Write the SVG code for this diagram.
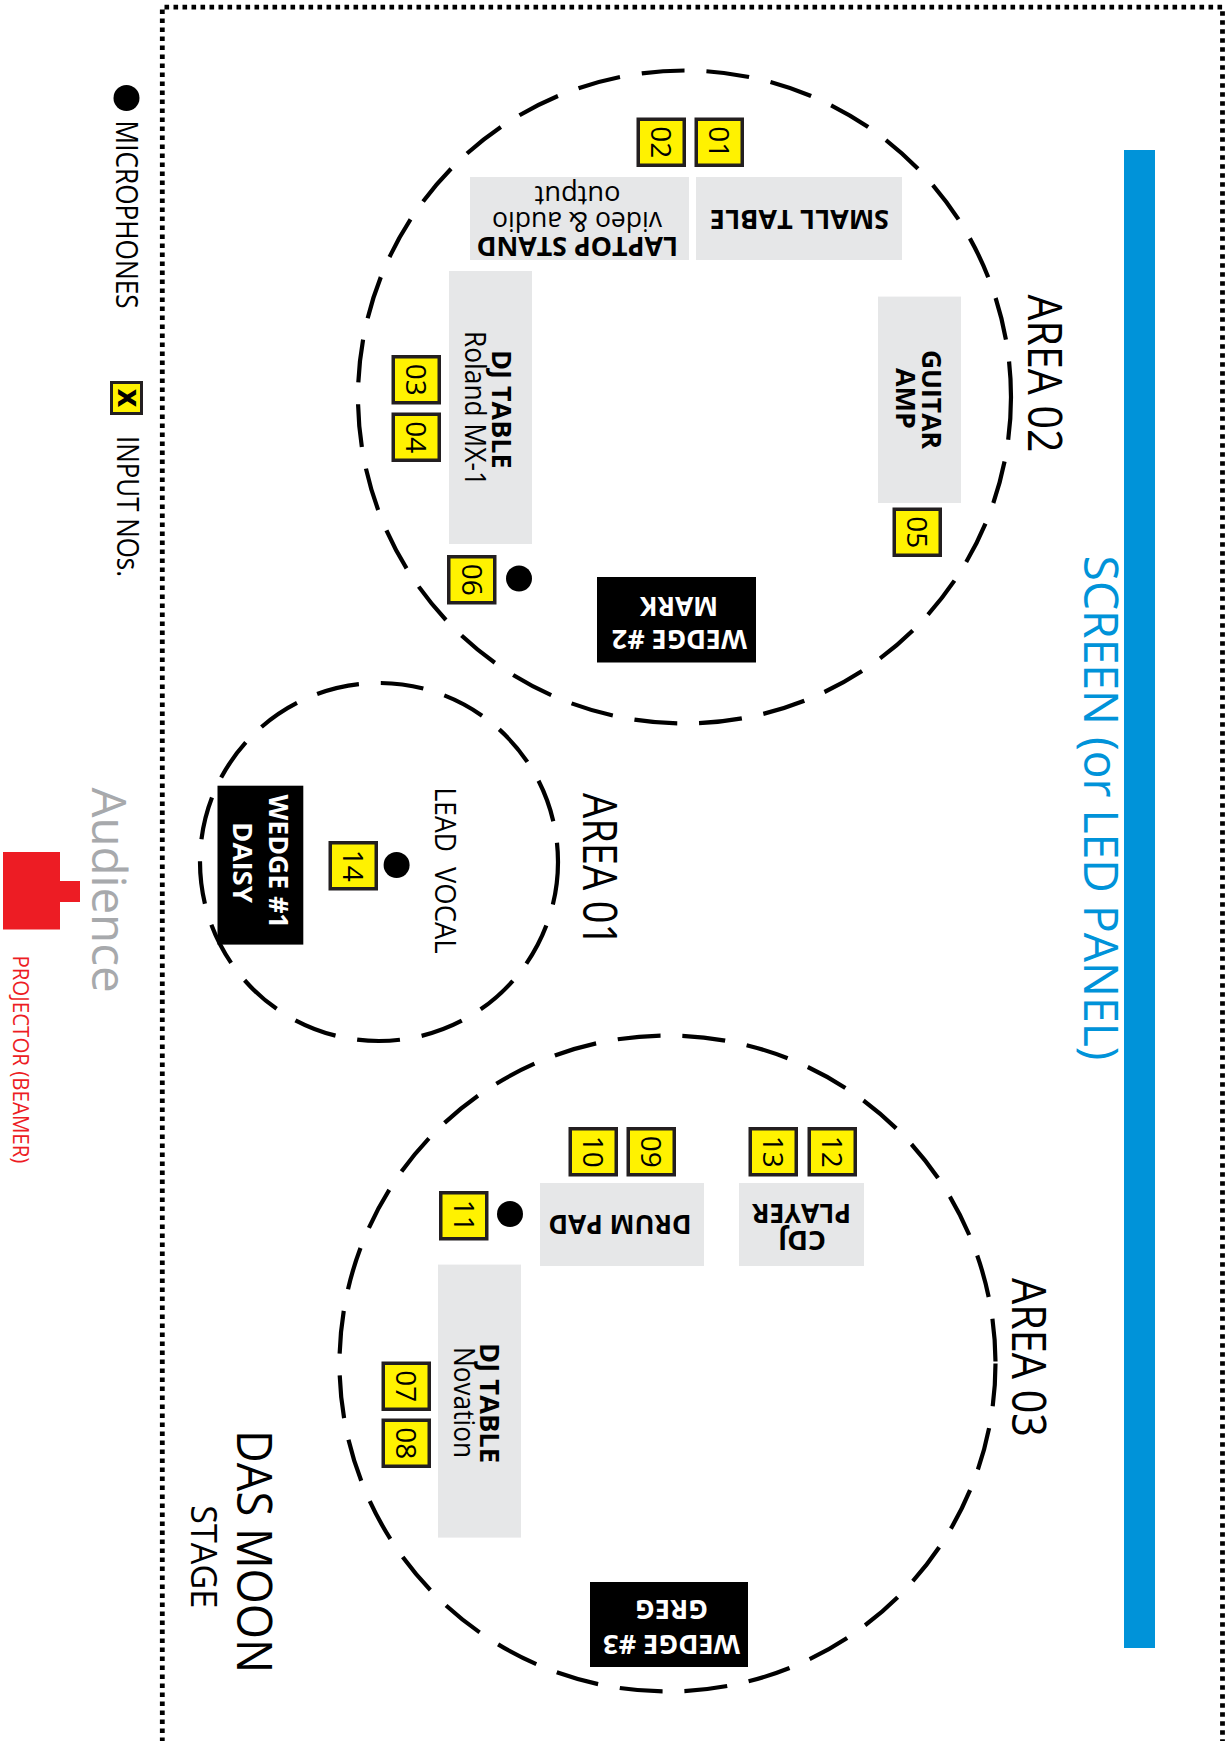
<svg xmlns="http://www.w3.org/2000/svg" width="1227" height="1741" viewBox="0 0 1227 1741">
<style>
text{font-family:"Open Sans","Noto Sans","Liberation Sans",sans-serif;fill:#000}
.b{font-weight:700}
.m{text-anchor:middle}
.g{fill:#e6e7e8}
.k{fill:#000}
.w{fill:#fff}
.area{fill:none;stroke:#000;stroke-width:4.2;stroke-dasharray:43 22}
.nb rect{fill:#fff200;stroke:#231f20;stroke-width:3.5}
.nb text{font-size:28px;text-anchor:middle}
.lbl{font-size:27px}
.big{font-size:47px}
</style>
<rect width="1227" height="1741" fill="#fff"/>
<g id="border">
<path d="M162.3,1760 V7.2 H1222.5 V1760" fill="none" stroke="#000" stroke-width="4.8" stroke-dasharray="4.6 4.4"/>
</g>
<g id="screen">
<rect x="1124" y="150" width="31" height="1498" fill="#0093d9"/>
<text transform="translate(1084,555.5) rotate(90)" font-size="48" textLength="505" lengthAdjust="spacingAndGlyphs" style="fill:#0093d9">SCREEN (or LED PANEL)</text>
</g>
<g id="areas">
<circle id="area02-circle" class="area" cx="684.5" cy="397" r="326.5"/>
<circle id="area01-circle" class="area" cx="379" cy="862" r="179"/>
<circle id="area03-circle" class="area" cx="667.5" cy="1363.5" r="328"/>
<text transform="translate(1028,294.6) rotate(90)" class="big" textLength="158" lengthAdjust="spacingAndGlyphs">AREA 02</text>
<text transform="translate(583,792.9) rotate(90)" class="big" textLength="153.5" lengthAdjust="spacingAndGlyphs">AREA 01</text>
<text transform="translate(1012,1278) rotate(90)" class="big" textLength="159" lengthAdjust="spacingAndGlyphs">AREA 03</text>
</g>
<g id="legend">
<circle cx="126.5" cy="98" r="13" fill="#000"/>
<text transform="translate(115.5,120.6) rotate(90)" font-size="31" textLength="188" lengthAdjust="spacingAndGlyphs">MICROPHONES</text>
<rect x="111.5" y="382.5" width="30" height="31" fill="#fff200" stroke="#231f20" stroke-width="3"/>
<text transform="translate(117.5,398) rotate(90)" class="b m" font-size="32">x</text>
<text transform="translate(116.6,436) rotate(90)" font-size="31" textLength="141" lengthAdjust="spacingAndGlyphs">INPUT NOs.</text>
</g>
<g id="audience">
<text transform="translate(92,787.5) rotate(90)" font-size="48" textLength="205" lengthAdjust="spacingAndGlyphs" style="fill:#a7a9ac">Audience</text>
</g>
<g id="projector">
<rect x="3" y="852" width="57" height="77.5" fill="#ed1c24"/>
<rect x="59" y="881" width="21" height="21" fill="#ed1c24"/>
<text transform="translate(12.5,955.4) rotate(90)" font-size="22" textLength="208" lengthAdjust="spacingAndGlyphs" style="fill:#ed1c24">PROJECTOR (BEAMER)</text>
</g>
<g id="stage-title">
<text transform="translate(237.2,1430) rotate(90)" font-size="49" textLength="243" lengthAdjust="spacingAndGlyphs">DAS MOON</text>
<text transform="translate(191,1505.3) rotate(90)" font-size="37" textLength="103" lengthAdjust="spacingAndGlyphs">STAGE</text>
</g>
<g id="laptop-stand">
<rect class="g" x="470" y="177" width="219" height="83"/>
<text transform="translate(577.3,237) rotate(180)" class="b m lbl" textLength="201.5" lengthAdjust="spacingAndGlyphs">LAPTOP STAND</text>
<text transform="translate(577,211.5) rotate(180)" class="m lbl" textLength="170" lengthAdjust="spacingAndGlyphs">video &amp; audio</text>
<text transform="translate(577.5,186) rotate(180)" class="m lbl" textLength="86" lengthAdjust="spacingAndGlyphs">output</text>
</g>
<g id="small-table">
<rect class="g" x="696" y="177" width="206" height="83"/>
<text transform="translate(799.5,209.6) rotate(180)" class="b m lbl" textLength="179" lengthAdjust="spacingAndGlyphs">SMALL TABLE</text>
</g>
<g id="guitar-amp">
<rect class="g" x="878" y="296.6" width="83" height="206.4"/>
<text transform="translate(922,399.4) rotate(90)" class="b m lbl" textLength="99" lengthAdjust="spacingAndGlyphs">GUITAR</text>
<text transform="translate(896,398.4) rotate(90)" class="b m lbl" textLength="61" lengthAdjust="spacingAndGlyphs">AMP</text>
</g>
<g id="dj-table-roland">
<rect class="g" x="449" y="271" width="83" height="273"/>
<text transform="translate(492,409.3) rotate(90)" class="b m lbl" textLength="118.6" lengthAdjust="spacingAndGlyphs">DJ TABLE</text>
<text transform="translate(465,408.5) rotate(90)" class="m" font-size="29" textLength="155" lengthAdjust="spacingAndGlyphs">Roland MX-1</text>
</g>
<g id="wedge2">
<rect class="k" x="597" y="577" width="159" height="85.5"/>
<text transform="translate(679.5,630) rotate(180)" class="b m lbl w" textLength="135" lengthAdjust="spacingAndGlyphs">WEDGE #2</text>
<text transform="translate(679,597) rotate(180)" class="b m lbl w" textLength="78" lengthAdjust="spacingAndGlyphs">MARK</text>
</g>
<g id="mic-06"><circle cx="519" cy="578.5" r="13" fill="#000"/></g>
<g id="lead-vocal">
<text transform="translate(435,787.5) rotate(90)" font-size="30"><tspan x="0" textLength="64.3" lengthAdjust="spacingAndGlyphs">LEAD</tspan><tspan x="79.5" textLength="86.6" lengthAdjust="spacingAndGlyphs">VOCAL</tspan></text>
<circle cx="396.6" cy="865" r="13" fill="#000"/>
</g>
<g id="wedge1">
<rect class="k" x="217.5" y="785.7" width="85.8" height="158.9"/>
<text transform="translate(269,861.6) rotate(90)" class="b m lbl w" textLength="134" lengthAdjust="spacingAndGlyphs">WEDGE #1</text>
<text transform="translate(233.3,862.5) rotate(90)" class="b m lbl w" textLength="81" lengthAdjust="spacingAndGlyphs">DAISY</text>
</g>
<g id="drum-pad">
<rect class="g" x="540" y="1183" width="164" height="83"/>
<text transform="translate(620,1214.7) rotate(180)" class="b m lbl" textLength="143" lengthAdjust="spacingAndGlyphs">DRUM PAD</text>
</g>
<g id="cdj-player">
<rect class="g" x="739" y="1183" width="125" height="83"/>
<text transform="translate(802,1231) rotate(180)" class="b m lbl" textLength="48" lengthAdjust="spacingAndGlyphs">CDJ</text>
<text transform="translate(801.5,1204) rotate(180)" class="b m lbl" textLength="99" lengthAdjust="spacingAndGlyphs">PLAYER</text>
</g>
<g id="mic-11"><circle cx="510" cy="1214" r="13" fill="#000"/></g>
<g id="dj-table-novation">
<rect class="g" x="438" y="1264.6" width="83" height="273"/>
<text transform="translate(480.4,1403) rotate(90)" class="b m lbl" textLength="120" lengthAdjust="spacingAndGlyphs">DJ TABLE</text>
<text transform="translate(454,1402.5) rotate(90)" class="m" font-size="29" textLength="111" lengthAdjust="spacingAndGlyphs">Novation</text>
</g>
<g id="wedge3">
<rect class="k" x="590" y="1582" width="158" height="85"/>
<text transform="translate(671.5,1635) rotate(180)" class="b m lbl w" textLength="137" lengthAdjust="spacingAndGlyphs">WEDGE #3</text>
<text transform="translate(671.5,1600) rotate(180)" class="b m lbl w" textLength="73" lengthAdjust="spacingAndGlyphs">GREG</text>
</g>
<g id="inputs">
<g id="in01" class="nb" transform="translate(694.5,117.5)"><rect x="1.75" y="1.75" width="46" height="46"/><text transform="translate(14.75,24.75) rotate(90)">01</text></g>
<g id="in02" class="nb" transform="translate(636.5,117.5)"><rect x="1.75" y="1.75" width="46" height="46"/><text transform="translate(14.75,24.75) rotate(90)">02</text></g>
<g id="in03" class="nb" transform="translate(391.5,355)"><rect x="1.75" y="1.75" width="46" height="46"/><text transform="translate(14.75,24.75) rotate(90)">03</text></g>
<g id="in04" class="nb" transform="translate(391.5,412.5)"><rect x="1.75" y="1.75" width="46" height="46"/><text transform="translate(14.75,24.75) rotate(90)">04</text></g>
<g id="in05" class="nb" transform="translate(892.5,507.5)"><rect x="1.75" y="1.75" width="46" height="46"/><text transform="translate(14.75,24.75) rotate(90)">05</text></g>
<g id="in06" class="nb" transform="translate(447,555)"><rect x="1.75" y="1.75" width="46" height="46"/><text transform="translate(14.75,24.75) rotate(90)">06</text></g>
<g id="in07" class="nb" transform="translate(381.5,1361.5)"><rect x="1.75" y="1.75" width="46" height="46"/><text transform="translate(14.75,24.75) rotate(90)">07</text></g>
<g id="in08" class="nb" transform="translate(381.5,1418.5)"><rect x="1.75" y="1.75" width="46" height="46"/><text transform="translate(14.75,24.75) rotate(90)">08</text></g>
<g id="in09" class="nb" transform="translate(626.5,1127)"><rect x="1.75" y="1.75" width="46" height="46"/><text transform="translate(14.75,24.75) rotate(90)">09</text></g>
<g id="in10" class="nb" transform="translate(568.5,1127)"><rect x="1.75" y="1.75" width="46" height="46"/><text transform="translate(14.75,24.75) rotate(90)">10</text></g>
<g id="in11" class="nb" transform="translate(439,1191)"><rect x="1.75" y="1.75" width="46" height="46"/><text transform="translate(14.75,24.75) rotate(90)">11</text></g>
<g id="in12" class="nb" transform="translate(807.5,1127)"><rect x="1.75" y="1.75" width="46" height="46"/><text transform="translate(14.75,24.75) rotate(90)">12</text></g>
<g id="in13" class="nb" transform="translate(748.5,1127)"><rect x="1.75" y="1.75" width="46" height="46"/><text transform="translate(14.75,24.75) rotate(90)">13</text></g>
<g id="in14" class="nb" transform="translate(328.5,841)"><rect x="1.75" y="1.75" width="46" height="46"/><text transform="translate(14.75,24.75) rotate(90)">14</text></g>
</g>
<g id="connectors"/>
</svg>
